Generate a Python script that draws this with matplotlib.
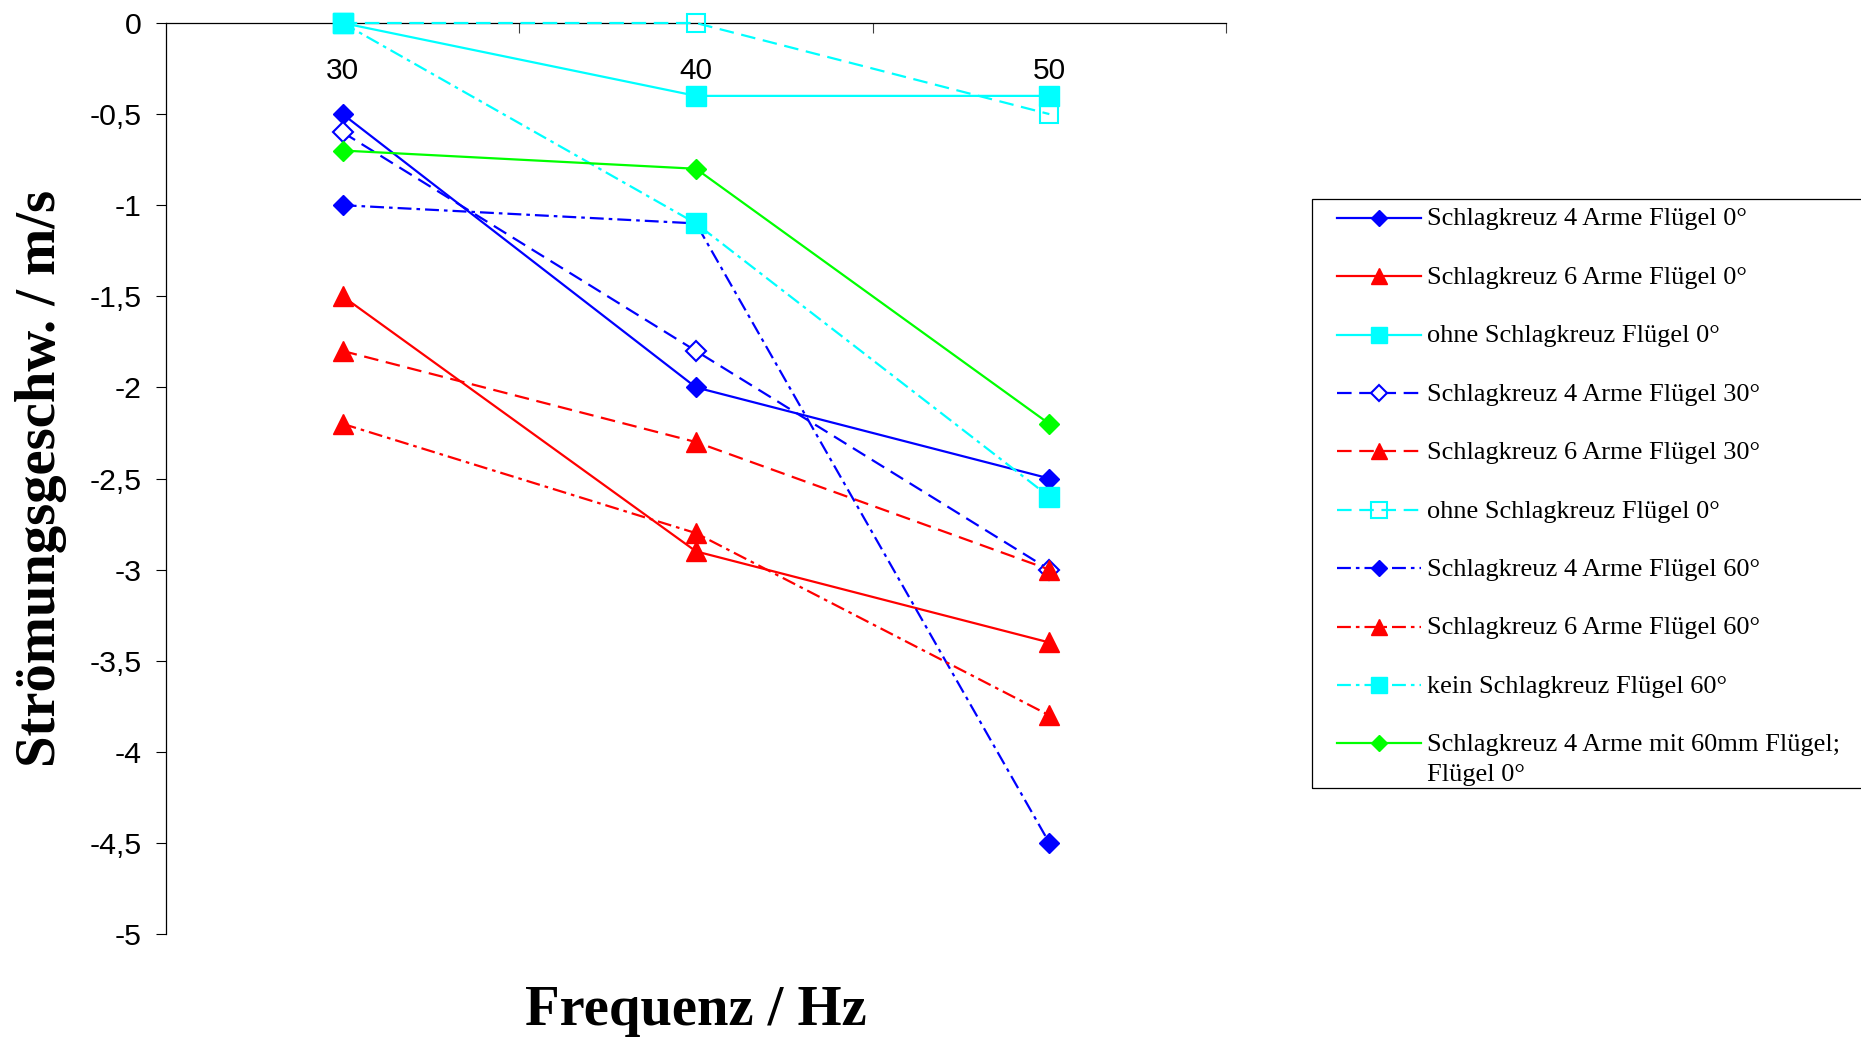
import numpy as np
import matplotlib
matplotlib.use("Agg")
import matplotlib.pyplot as plt
from matplotlib.patches import Rectangle
from matplotlib.ticker import FixedLocator, NullFormatter

# --- data -------------------------------------------------------------
frequencies = ["30", "40", "50"]
y_ticks = [0, -0.5, -1, -1.5, -2, -2.5, -3, -3.5, -4, -4.5, -5]
y_tick_labels = ["0", "-0,5", "-1", "-1,5", "-2", "-2,5", "-3", "-3,5", "-4", "-4,5", "-5"]

kreuz4_0 = [-0.5, -2.0, -2.5]
kreuz6_0 = [-1.5, -2.9, -3.4]
ohne_0 = [0.0, -0.4, -0.4]
kreuz4_30 = [-0.6, -1.8, -3.0]
kreuz6_30 = [-1.8, -2.3, -3.0]
ohne_0_b = [0.0, 0.0, -0.5]
kreuz4_60 = [-1.0, -1.1, -4.5]
kreuz6_60 = [-2.2, -2.8, -3.8]
kein_60 = [0.0, -1.1, -2.6]
kreuz4_60mm = [-0.7, -0.8, -2.2]

series_labels = [
    "Schlagkreuz 4 Arme Flügel 0°",
    "Schlagkreuz 6 Arme Flügel 0°",
    "ohne Schlagkreuz Flügel 0°",
    "Schlagkreuz 4 Arme Flügel 30°",
    "Schlagkreuz 6 Arme Flügel 30°",
    "ohne Schlagkreuz Flügel 0°",
    "Schlagkreuz 4 Arme Flügel 60°",
    "Schlagkreuz 6 Arme Flügel 60°",
    "kein Schlagkreuz Flügel 60°",
    "Schlagkreuz 4 Arme mit 60mm Flügel;\nFlügel 0°",
]

# --- styles -----------------------------------------------------------
BLUE, RED, CYAN, GREEN = "#0000FF", "#FF0000", "#00FFFF", "#00FF00"
SOLID = "-"
DASH = (0, (10.5, 5.5))
DASHDOT = (0, (10.0, 3.6, 2.6, 3.6))

styles = [
    dict(color=BLUE, ls=SOLID, marker="D", ms=9.8, mfc=BLUE),
    dict(color=RED, ls=SOLID, marker="^", ms=14, mfc=RED),
    dict(color=CYAN, ls=SOLID, marker="s", ms=14, mfc=CYAN),
    dict(color=BLUE, ls=DASH, marker="D", ms=9.8, mfc="white", mew=1.5),
    dict(color=RED, ls=DASH, marker="^", ms=14, mfc=RED),
    dict(color=CYAN, ls=DASH, marker="s", ms=13.5, mfc="none", mew=1.5),
    dict(color=BLUE, ls=DASHDOT, marker="D", ms=9.8, mfc=BLUE),
    dict(color=RED, ls=DASHDOT, marker="^", ms=14, mfc=RED),
    dict(color=CYAN, ls=DASHDOT, marker="s", ms=14, mfc=CYAN),
    dict(color=GREEN, ls=SOLID, marker="D", ms=9.8, mfc=GREEN),
]
series_values = [kreuz4_0, kreuz6_0, ohne_0, kreuz4_30, kreuz6_30,
                 ohne_0_b, kreuz4_60, kreuz6_60, kein_60, kreuz4_60mm]

plt.rcParams["lines.scale_dashes"] = False

W, H = 1861, 1039
fig = plt.figure(figsize=(W / 100, H / 100), dpi=100)
ax_left, ax_right, ax_top, ax_bottom = 166, 1226, 23, 934
ax = fig.add_axes([ax_left / W, 1 - ax_bottom / H,
                   (ax_right - ax_left) / W, (ax_bottom - ax_top) / H])

x = np.arange(len(frequencies)) + 0.5
handles = []
for vals, st, lab in zip(series_values, styles, series_labels):
    st = dict(st)
    mew = st.pop("mew", 1.0)
    (ln,) = ax.plot(x, vals, lw=1.6, mec=st["color"], mew=mew,
                    clip_on=False, zorder=3, label=lab,
                    color=st["color"], ls=st["ls"], marker=st["marker"],
                    ms=st["ms"], mfc=st["mfc"])
    handles.append(ln)

ax.set_xlim(0, len(frequencies))
ax.set_ylim(-5, 0)

# category axis crosses at value 0 (top of the plot)
ax.spines["top"].set_visible(False)
ax.spines["right"].set_visible(False)
ax.spines["bottom"].set_position(("data", 0))
for sp in ("left", "bottom"):
    ax.spines[sp].set_linewidth(0.9)
    ax.spines[sp].set_zorder(2)

ax.xaxis.set_major_locator(FixedLocator(np.arange(1, len(frequencies) + 1)))
ax.xaxis.set_major_formatter(NullFormatter())
ax.set_xticks(x, frequencies, minor=True)
ax.tick_params(axis="x", which="major", direction="out", length=7, width=0.8,
               color="#404040")
ax.tick_params(axis="x", which="minor", length=0, pad=24.5, labelsize=21.5)

ax.set_yticks(y_ticks, y_tick_labels)
ax.tick_params(axis="y", direction="out", length=7, width=0.8, pad=10.5,
               labelsize=21.8)

for lbl in ax.get_xticklabels(minor=True) + ax.get_yticklabels():
    lbl.set_fontfamily("Liberation Sans")

serif_bold = dict(fontfamily="Liberation Serif", fontweight="bold", fontsize=40.8)
ax.set_xlabel("Frequenz / Hz", **serif_bold)
ax.xaxis.label.set_va("baseline")
ax.xaxis.set_label_coords(0.5, -(1025 - ax_bottom) / (ax_bottom - ax_top))
ax.set_ylabel("Strömungsgeschw. / m/s", **serif_bold)
ax.yaxis.label.set_va("baseline")
ax.yaxis.set_label_coords((55 - ax_left) / (ax_right - ax_left), 0.5)

# legend box, open towards the right edge
fig.patches.append(Rectangle((1311.5 / W, 1 - 787.5 / H), (1900 - 1311.5) / W,
                             (787.5 - 199.3) / H, transform=fig.transFigure,
                             fill=False, ec="black", lw=0.9))
leg = fig.legend(handles, series_labels, loc="upper left",
                 bbox_to_anchor=(1337 / W, 1 - 208.5 / H), frameon=False,
                 prop=dict(family="Liberation Serif", size=19),
                 handlelength=3.2, handletextpad=0.22, labelspacing=1.38,
                 borderpad=0, borderaxespad=0, markerscale=0.85)
for t in leg.get_texts():
    t.set_linespacing(1.48)
# two-line entry: keep the key symbol level with its first line
for column in leg._legend_handle_box.get_children():
    for item in column.get_children():
        item.align = "top"

fig.savefig("out.png", dpi=100)
